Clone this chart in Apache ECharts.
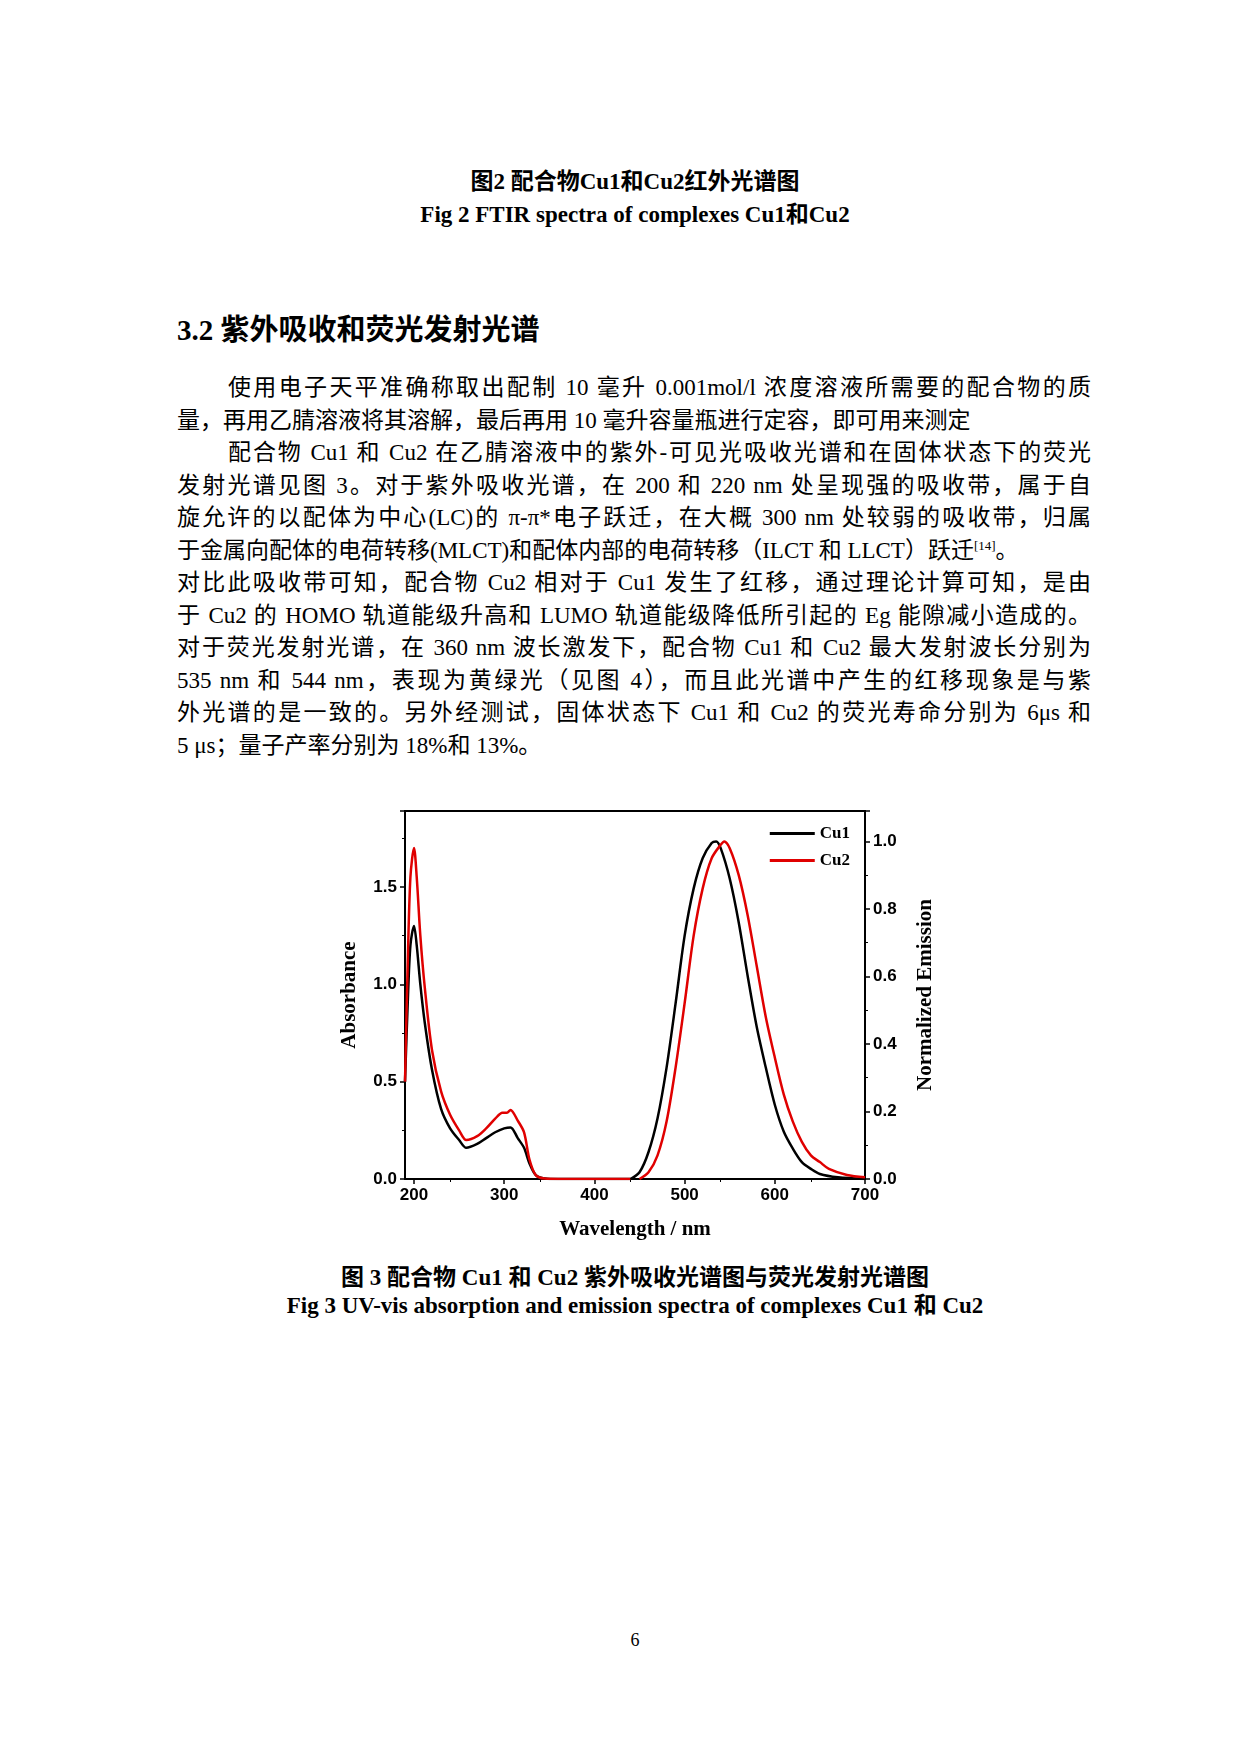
<!DOCTYPE html>
<html><head><meta charset="utf-8">
<script src="https://cdn.jsdelivr.net/npm/echarts@6/dist/echarts.min.js"></script>
<style>
body{margin:0;width:1240px;height:1754px;background:#fff;position:relative;font-family:"Liberation Serif","Noto Sans CJK SC",serif;color:#000}
.t{position:absolute;white-space:nowrap}
.c{left:15px;width:1240px;text-align:center;font-weight:bold;font-size:23px}
.p{position:absolute;left:177px;width:914px;font-size:23px;line-height:32.5px}
.p div{text-align:justify;text-align-last:justify;white-space:nowrap;height:32.5px}
.p div.l{text-align-last:left}
.p div.i{padding-left:51px}
sup{font-size:13px;line-height:0;vertical-align:8px}
#chart{position:absolute;left:300px;top:790px;width:660px;height:460px}
</style></head><body>
<div class="t c" style="top:162px">图2 配合物Cu1和Cu2红外光谱图</div>
<div class="t c" style="top:195px">Fig 2 FTIR spectra of complexes Cu1和Cu2</div>
<div class="t" style="left:177px;top:306px;font-size:29px;font-weight:bold">3.2 紫外吸收和荧光发射光谱</div>
<div class="p" style="top:372px">
<div class="i">使用电子天平准确称取出配制 10 毫升 0.001mol/l 浓度溶液所需要的配合物的质</div>
<div class="l">量，再用乙腈溶液将其溶解，最后再用 10 毫升容量瓶进行定容，即可用来测定</div>
<div class="i">配合物 Cu1 和 Cu2 在乙腈溶液中的紫外-可见光吸收光谱和在固体状态下的荧光</div>
<div>发射光谱见图 3。对于紫外吸收光谱，在 200 和 220 nm 处呈现强的吸收带，属于自</div>
<div>旋允许的以配体为中心(LC)的 π-π*电子跃迁，在大概 300 nm 处较弱的吸收带，归属</div>
<div class="l">于金属向配体的电荷转移(MLCT)和配体内部的电荷转移（ILCT 和 LLCT）跃迁<sup>[14]</sup>。</div>
<div>对比此吸收带可知，配合物 Cu2 相对于 Cu1 发生了红移，通过理论计算可知，是由</div>
<div>于 Cu2 的 HOMO 轨道能级升高和 LUMO 轨道能级降低所引起的 Eg 能隙减小造成的。</div>
<div>对于荧光发射光谱，在 360 nm 波长激发下，配合物 Cu1 和 Cu2 最大发射波长分别为</div>
<div>535 nm 和 544 nm，表现为黄绿光（见图 4），而且此光谱中产生的红移现象是与紫</div>
<div>外光谱的是一致的。另外经测试，固体状态下 Cu1 和 Cu2 的荧光寿命分别为 6μs 和</div>
<div class="l">5 μs；量子产率分别为 18%和 13%。</div>
</div>
<div id="chart"></div>
<div class="t c" style="top:1258px">图 3 配合物 Cu1 和 Cu2 紫外吸收光谱图与荧光发射光谱图</div>
<div class="t c" style="top:1286px">Fig 3 UV-vis absorption and emission spectra of complexes Cu1 和 Cu2</div>
<div class="t" style="left:15px;width:1240px;text-align:center;top:1630px;font-size:18px">6</div>
<script>
const absCu1 = [[190,0.5],[193,0.9],[196,1.2],[200,1.3],[203,1.2],[207,1.0],[212,0.8],[220,0.56],[230,0.36],[240,0.26],[250,0.2],[258,0.16],[270,0.18],[280,0.21],[290,0.24],[300,0.26],[307,0.265],[315,0.21],[322,0.16],[328,0.08],[335,0.02],[345,0.003],[360,0],[440,0]];
const absCu2 = [[190,0.5],[193,1.1],[196,1.55],[200,1.7],[203,1.55],[207,1.25],[212,0.98],[220,0.66],[230,0.45],[240,0.33],[250,0.25],[258,0.2],[270,0.22],[280,0.26],[290,0.31],[298,0.34],[303,0.34],[307,0.355],[315,0.3],[322,0.24],[328,0.1],[335,0.02],[345,0.002],[360,0],[440,0]];
const emCu1 = [[440,0],[450,0.02],[460,0.08],[470,0.18],[480,0.33],[490,0.52],[500,0.72],[510,0.86],[520,0.95],[530,0.995],[535,1.0],[540,0.98],[550,0.89],[560,0.76],[570,0.6],[580,0.45],[590,0.33],[600,0.22],[610,0.14],[620,0.09],[630,0.05],[640,0.03],[650,0.015],[670,0.005],[700,0]];
const emCu2 = [[450,0],[460,0.02],[470,0.07],[480,0.17],[490,0.33],[500,0.52],[510,0.72],[520,0.86],[530,0.95],[540,0.99],[544,1.0],[550,0.98],[560,0.9],[570,0.78],[580,0.63],[590,0.48],[600,0.36],[610,0.25],[620,0.17],[630,0.11],[640,0.07],[650,0.05],[660,0.03],[680,0.012],[700,0.005]];
const seriesNames = ['Cu1','Cu2'];
const fnt = 'Liberation Serif';
const chart = echarts.init(document.getElementById('chart'));
const lab = {color:'#000',fontWeight:'bold',fontSize:17,fontFamily:'Liberation Sans'};
function ser(name,data,color,yi){return {name,type:'line',data,yAxisIndex:yi,smooth:0.3,showSymbol:false,lineStyle:{color,width:2.5},itemStyle:{color}};}
chart.setOption({
  animation:false,
  grid:{left:105,right:95,top:21,bottom:71,show:true,borderColor:'#000',borderWidth:2},
  legend:{data:seriesNames,orient:'vertical',right:105,top:30,itemWidth:45,itemHeight:3,itemGap:10,icon:'rect',textStyle:{fontFamily:fnt,fontWeight:'bold',fontSize:17,color:'#000'}},
  xAxis:{type:'value',min:190,max:700,interval:100,axisLine:{lineStyle:{color:'#000',width:2}},
    minorTick:{show:true,splitNumber:2,length:3,lineStyle:{color:'#000'}},splitLine:{show:false},axisLabel:Object.assign({customValues:[200,300,400,500,600,700]},lab),
    axisTick:{customValues:[200,300,400,500,600,700],lineStyle:{color:'#000',width:1.5},length:5},
    name:'Wavelength / nm',nameLocation:'middle',nameGap:40,nameTextStyle:{fontFamily:fnt,fontWeight:'bold',fontSize:21,color:'#000'}},
  yAxis:[{type:'value',min:0,max:1.89,interval:0.5,axisLine:{show:true,lineStyle:{color:'#000',width:2}},axisTick:{show:true,length:5,lineStyle:{color:'#000',width:1.5}},
    minorTick:{show:true,splitNumber:2,length:3,lineStyle:{color:'#000'}},splitLine:{show:false},axisLabel:Object.assign({formatter:v=>v.toFixed(1),showMaxLabel:false},lab),
    name:'Absorbance',nameLocation:'middle',nameGap:45,nameTextStyle:{fontFamily:fnt,fontWeight:'bold',fontSize:21,color:'#000'}},
   {type:'value',min:0,max:1.09,interval:0.2,position:'right',axisLine:{show:true,lineStyle:{color:'#000',width:2}},axisTick:{show:true,length:5,lineStyle:{color:'#000',width:1.5}},
    minorTick:{show:true,splitNumber:2,length:3,lineStyle:{color:'#000'}},splitLine:{show:false},axisLabel:Object.assign({formatter:v=>v.toFixed(1),showMaxLabel:false},lab),
    name:'Normalized Emission',nameLocation:'middle',nameGap:50,nameTextStyle:{fontFamily:fnt,fontWeight:'bold',fontSize:21,color:'#000'}}],
  series:[ser('Cu1',absCu1,'#000',0),ser('Cu2',absCu2,'#e00000',0),ser('Cu1',emCu1,'#000',1),ser('Cu2',emCu2,'#e00000',1)]
});
</script></body></html>
